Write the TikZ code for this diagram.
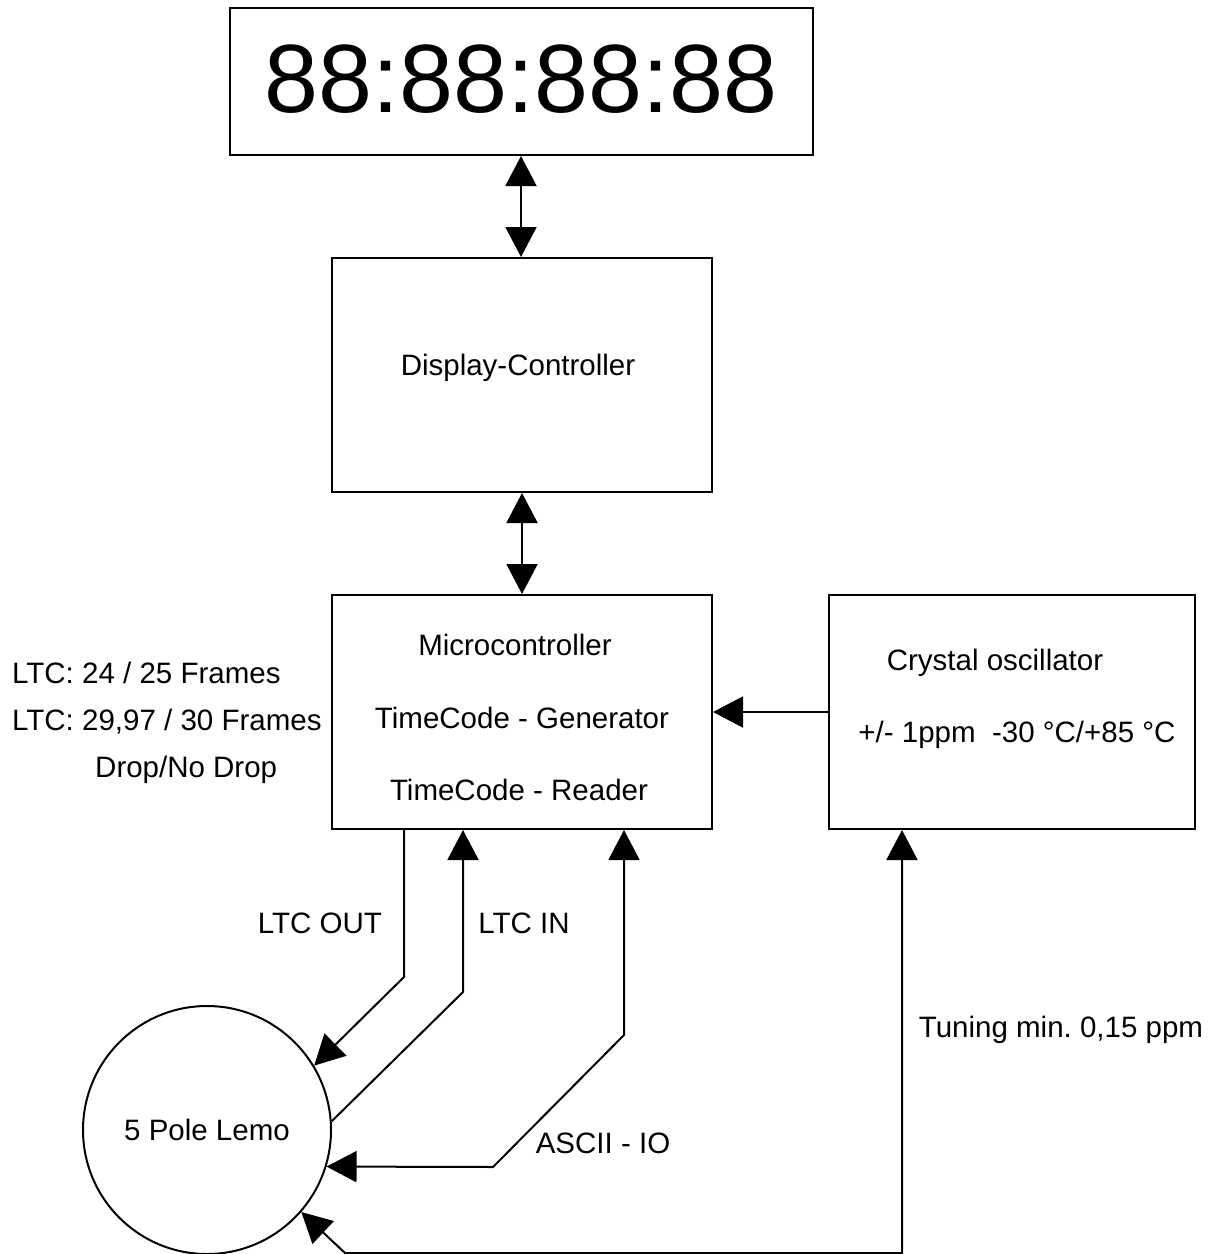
\documentclass[tikz,border=0pt]{standalone}
\usepackage{fontspec}
\setmainfont{Liberation Sans}
\usetikzlibrary{arrows.meta}
\frenchspacing
\begin{document}
\begin{tikzpicture}[x=1pt,y=-1pt,
  every node/.style={font=\fontsize{29.5}{35}\selectfont},
  blk/.style={draw,line width=2pt,minimum width=#1,minimum height=234pt,inner sep=0pt},
  lbl/.style={anchor=base,inner sep=0pt},
  lblw/.style={anchor=base west,inner sep=0pt},
  wire/.style={line width=2pt},
  >={Triangle[length=30pt,width=31pt]},
]
\useasboundingbox (0,0) rectangle (1214,1254);

% display
\node[draw,line width=2pt,minimum width=583pt,minimum height=147pt,inner sep=0pt] (disp) at (521,81.5) {};
\node[lbl,font=\fontsize{97}{100}\selectfont] (disptxt) at (521,112) {88:88:88:88};

% blocks
\node[blk=380pt] (dc) at (522,375) {};
\node[lbl] (dctxt) at (518,375.5) {Display-Controller};

\node[blk=380pt] (mc) at (522,712) {};
\node[lbl] (mc1) at (515,655.5) {Microcontroller};
\node[lbl] (mc2) at (522,728.5) {TimeCode - Generator};
\node[lbl] (mc3) at (519,800.5) {TimeCode - Reader};

\node[blk=366pt] (xo) at (1012,712) {};
\node[lbl] (xo1) at (995,670.5) {Crystal oscillator};
\node[lbl] (xo2) at (1017,742.5) {+/- 1ppm\ \ -30 °C/+85 °C};

\node[draw,circle,line width=2pt,minimum size=248pt,inner sep=0pt] (lemo) at (207,1130) {5 Pole Lemo};

% side notes
\node[lblw] (fr1) at (12,683.5) {LTC: 24 / 25 Frames};
\node[lblw] (fr2) at (12,730.5) {LTC: 29,97 / 30 Frames};
\node[lblw] (fr3) at (95,777.5) {Drop/No Drop};

% bus connections
\draw[wire,<->] (disp.south) -- (disp.south |- dc.north);
\draw[wire,<->] (dc.south) -- (mc.north);
\draw[wire,->] (xo.west) -- (mc.east);

% LTC out
\coordinate (outbend) at (404,977);
\draw[wire,->] (outbend |- mc.south) -- (outbend) -- (lemo.31);
\node[lbl] (ltcout) at (320,933.5) {LTC OUT};

% LTC in
\coordinate (inbend) at (463,992);
\draw[wire,->] (lemo.4) -- (inbend) -- (inbend |- mc.south);
\node[lbl] (ltcin) at (524,933.5) {LTC IN};

% ASCII
\coordinate (ioup) at (624,1035);
\coordinate (iolow) at (493,1167);
\draw[wire,<->] (ioup |- mc.south) -- (ioup) -- (iolow) -- (lemo.-17);
\node[lbl] (ascii) at (603,1153.5) {ASCII - IO};

% tuning
\coordinate (tunelow) at (345,1253);
\coordinate (tunecorner) at (902,1253);
\draw[wire,<->] (lemo.-41) -- (tunelow) -- (tunecorner) -- (tunecorner |- xo.south);
\node[lbl] (tune) at (1061,1037.5) {Tuning min. 0,15 ppm};
\end{tikzpicture}
\end{document}
